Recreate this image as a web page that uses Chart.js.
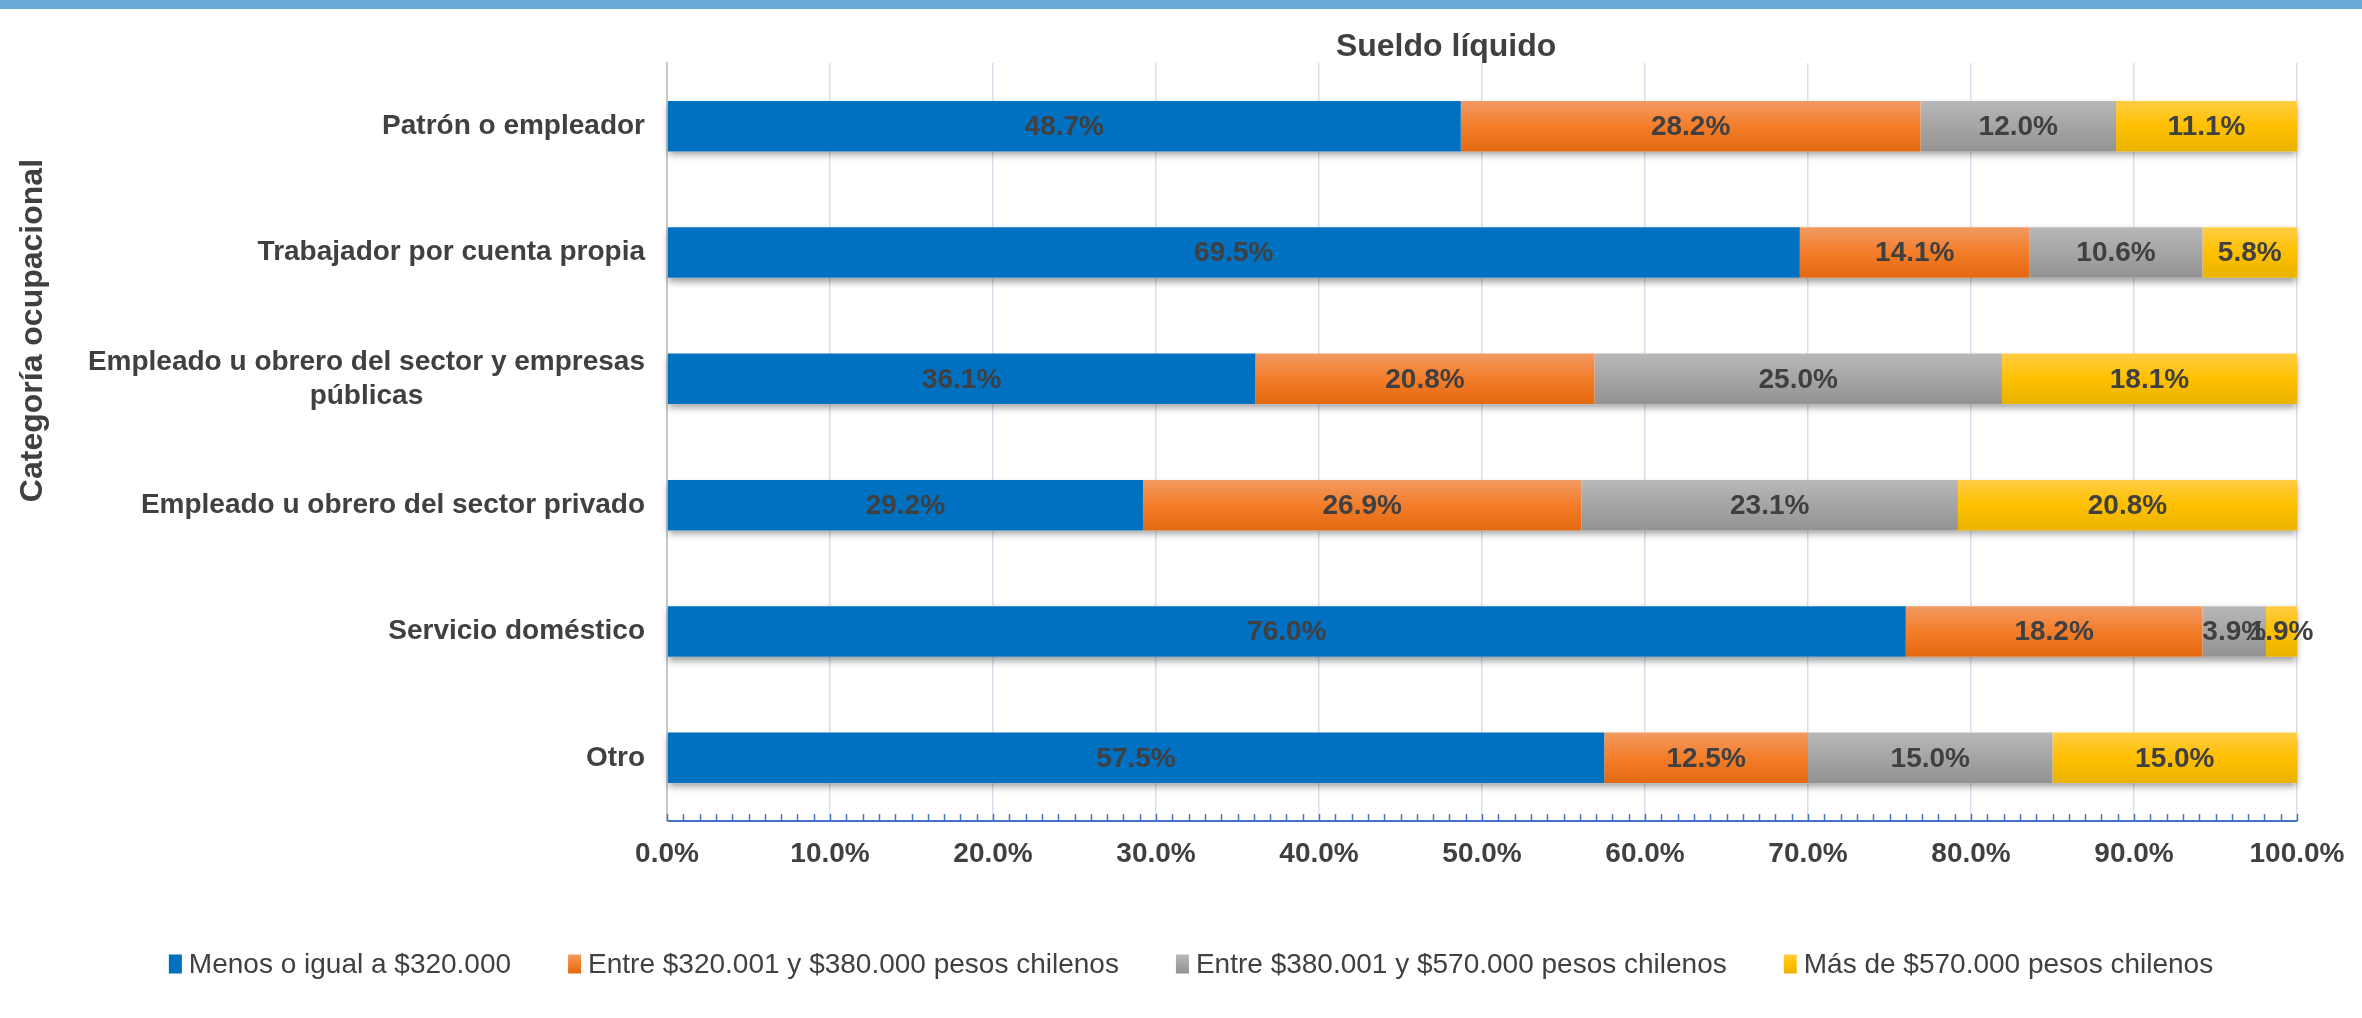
<!DOCTYPE html>
<html>
<head>
<meta charset="utf-8">
<script src="https://cdn.jsdelivr.net/npm/chart.js@4.4.1/dist/chart.umd.min.js"></script>
<style>
  html, body { margin: 0; padding: 0; background: #fff; }
  .stripe { position: absolute; left: 0; top: 0; width: 2362px; height: 9px; background: #6AAAD6; }
  canvas { display: block; }
</style>
</head>
<body>
<div class="stripe"></div>
<canvas id="chart" width="2362" height="1018"></canvas>
<script>
const categories = [
  "Patrón o empleador",
  "Trabajador por cuenta propia",
  ["Empleado u obrero del sector y empresas", "públicas"],
  "Empleado u obrero del sector privado",
  "Servicio doméstico",
  "Otro",
];
const seriesNames = [
  "Menos o igual a $320.000",
  "Entre $320.001 y $380.000 pesos chilenos",
  "Entre $380.001 y $570.000 pesos chilenos",
  "Más de $570.000 pesos chilenos",
];
const menos320 = [48.7, 69.5, 36.1, 29.2, 76.0, 57.5];
const entre320y380 = [28.2, 14.1, 20.8, 26.9, 18.2, 12.5];
const entre380y570 = [12.0, 10.6, 25.0, 23.1, 3.9, 15.0];
const mas570 = [11.1, 5.8, 18.1, 20.8, 1.9, 15.0];

const FONT = "'Liberation Sans', Arial, sans-serif";
const TEXT = "#404040";

// solid colour + vertical gradient stops for each series
const solids = ["#0070C0", "#F07B2C", "#A5A5A5", "#FFC000"];
const stops = [
  [[0, "#0070C0"], [1, "#0070C0"]],
  [[0, "#F29A62"], [0.5, "#F47D2A"], [1, "#E2690F"]],
  [[0, "#B8B8B8"], [0.5, "#A5A5A5"], [1, "#929292"]],
  [[0, "#FFCD45"], [0.5, "#FFC000"], [1, "#E9B300"]],
];

function barFill(k) {
  return (ctx) => {
    const chart = ctx.chart;
    if (!chart.chartArea || ctx.type !== "data") return solids[k];
    const ys = chart.scales.y;
    const y = ys.getPixelForValue(ctx.dataIndex);
    const half = ys.height / categories.length * 0.4 / 2;
    const g = chart.ctx.createLinearGradient(0, y - half, 0, y + half);
    stops[k].forEach(([o, c]) => g.addColorStop(o, c));
    return g;
  };
}

const barShadow = {
  id: "barShadow",
  beforeDatasetsDraw(chart) {
    const c = chart.ctx;
    const first = chart.getDatasetMeta(0).data;
    const last = chart.getDatasetMeta(chart.data.datasets.length - 1).data;
    c.save();
    c.shadowColor = "rgba(0,0,0,0.38)";
    c.shadowBlur = 7;
    c.shadowOffsetY = 4;
    c.fillStyle = "#fff";
    first.forEach((el, i) => {
      const r = last[i];
      c.fillRect(el.base, el.y - el.height / 2, r.x - el.base, el.height);
    });
    c.restore();
  },
  afterDatasetsDraw(chart) {
    const c = chart.ctx;
    c.save();
    c.font = "bold 28px " + FONT;
    c.fillStyle = TEXT;
    c.textAlign = "center";
    c.textBaseline = "middle";
    chart.data.datasets.forEach((ds, d) => {
      chart.getDatasetMeta(d).data.forEach((el, i) => {
        c.fillText(ds.data[i].toFixed(1) + "%", (el.x + el.base) / 2, el.y + 1);
      });
    });
    c.restore();
  },
};

const decorations = {
  id: "decorations",
  afterDraw(chart) {
    const c = chart.ctx;
    const area = chart.chartArea;
    const xs = chart.scales.x;
    const ys = chart.scales.y;
    c.save();
    // minor ticks on the x axis
    c.strokeStyle = "#4472C4";
    c.lineWidth = 1.5;
    for (let v = 0; v <= 100; v++) {
      const px = Math.round(xs.getPixelForValue(v)) + 0.5;
      c.beginPath();
      c.moveTo(px, area.bottom);
      c.lineTo(px, area.bottom - 7);
      c.stroke();
    }
    // category labels
    c.font = "bold 28px " + FONT;
    c.fillStyle = TEXT;
    c.textBaseline = "middle";
    const right = area.left - 22;
    categories.forEach((lab, i) => {
      const lines = Array.isArray(lab) ? lab : [lab];
      const y = ys.getPixelForValue(i);
      const lh = 34;
      const w = Math.max(...lines.map((l) => c.measureText(l).width));
      lines.forEach((l, j) => {
        const ly = y + (j - (lines.length - 1) / 2) * lh;
        if (lines.length > 1) {
          c.textAlign = "center";
          c.fillText(l, right - w / 2, ly);
        } else {
          c.textAlign = "right";
          c.fillText(l, right, ly);
        }
      });
    });
    // title
    c.font = "bold 32px " + FONT;
    c.textAlign = "center";
    c.fillText("Sueldo líquido", area.left + area.width * 0.478, 47);
    // legend
    c.font = "28px " + FONT;
    c.textAlign = "left";
    const boxW = 13, boxH = 19, gap = 7, itemGap = 57;
    const widths = seriesNames.map((s) => c.measureText(s).width);
    const total = widths.reduce((a, w) => a + boxW + gap + w, 0) + itemGap * (seriesNames.length - 1);
    let lx = chart.width / 2 + 10 - total / 2;
    const ly = 964;
    seriesNames.forEach((s, k) => {
      const g = c.createLinearGradient(0, ly - boxH / 2, 0, ly + boxH / 2);
      stops[k].forEach(([o, col]) => g.addColorStop(o, col));
      c.fillStyle = g;
      c.fillRect(lx, ly - boxH / 2, boxW, boxH);
      c.fillStyle = TEXT;
      c.fillText(s, lx + boxW + gap, ly + 1);
      lx += boxW + gap + widths[k] + itemGap;
    });
    // y axis title
    c.font = "bold 32px " + FONT;
    c.textAlign = "center";
    c.translate(33, area.top + area.height * 0.353);
    c.rotate(-Math.PI / 2);
    c.fillText("Categoría ocupacional", 0, 0);
    c.restore();
  },
};

new Chart(document.getElementById("chart"), {
  type: "bar",
  data: {
    labels: categories,
    datasets: [menos320, entre320y380, entre380y570, mas570].map((vals, k) => ({
      label: seriesNames[k],
      data: vals,
      backgroundColor: barFill(k),
      borderWidth: 0,
      barPercentage: 0.4,
      categoryPercentage: 1,
    })),
  },
  options: {
    indexAxis: "y",
    responsive: false,
    animation: false,
    layout: { padding: { left: 0, right: 65, top: 63, bottom: 124 } },
    plugins: {
      title: { display: false },
      tooltip: { enabled: false },
      legend: { display: false },
    },
    scales: {
      x: {
        stacked: true,
        min: 0,
        max: 100,
        ticks: {
          stepSize: 10,
          padding: 16,
          color: TEXT,
          font: { family: FONT, size: 28, weight: "bold" },
          callback: (v) => v.toFixed(1) + "%",
        },
        grid: {
          color: (ctx) => (ctx.tick && ctx.tick.value === 0 ? "rgba(0,0,0,0)" : "#D9DFEC"),
          lineWidth: 1.5,
          drawTicks: false,
        },
        border: { color: "#4472C4", width: 2 },
        afterFit: (scale) => { scale.height = 73; },
      },
      y: {
        stacked: true,
        ticks: { display: false },
        grid: { display: false },
        border: { color: "#C8C8C8", width: 2 },
        afterFit: (scale) => { scale.width = 667; },
      },
    },
  },
  plugins: [barShadow, decorations],
});
</script>
</body>
</html>
